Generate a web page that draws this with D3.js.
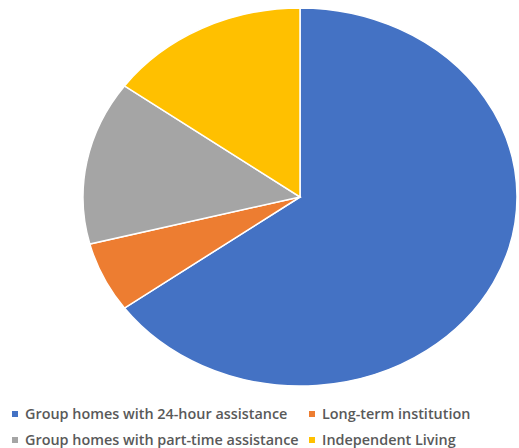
<!DOCTYPE html>
<html>
<head>
<meta charset="utf-8">
<script src="https://cdn.jsdelivr.net/npm/d3@7"></script>
<style>
  html, body { margin: 0; padding: 0; background: #ffffff; }
  svg { display: block; }
</style>
</head>
<body>
<svg id="chart" width="519" height="448"></svg>
<script>
// Living arrangements, share of people (%)
const categories = [
  "Group homes with 24-hour assistance",
  "Long-term institution",
  "Group homes with part-time assistance",
  "Independent Living"
];
const values = [65, 6, 14, 15];
const colors = ["#4472C4", "#ED7D31", "#A5A5A5", "#FFC000"];

const svg = d3.select("#chart");

// Pie drawn on a circle, then stretched horizontally into an ellipse
const cx = 300, cy = 197;
const ry = 189, rx = 217;

const pie = d3.pie().sort(null).value(d => d.value);
const arc = d3.arc().innerRadius(0).outerRadius(ry);

const data = categories.map((c, i) => ({ name: c, value: values[i], color: colors[i] }));

const g = svg.append("g")
  .attr("transform", `translate(${cx},${cy}) scale(${rx / ry},1)`);

g.selectAll("path")
  .data(pie(data))
  .join("path")
  .attr("d", arc)
  .attr("fill", d => d.data.color)
  .attr("stroke", "#ffffff")
  .attr("stroke-width", 1.5)
  .attr("vector-effect", "non-scaling-stroke");

// Legend: two rows, two columns
const legendPos = [
  { x: 12, y: 414 },
  { x: 309, y: 414 },
  { x: 12, y: 440 },
  { x: 309, y: 440 }
];

const legend = svg.append("g").attr("class", "legend");
const items = legend.selectAll("g")
  .data(data)
  .join("g")
  .attr("transform", (d, i) => `translate(${legendPos[i].x},${legendPos[i].y})`);

items.append("rect")
  .attr("x", 0)
  .attr("y", -3)
  .attr("width", 6)
  .attr("height", 6)
  .attr("fill", d => d.color);

items.append("text")
  .attr("x", 13)
  .attr("y", 0)
  .attr("dy", "0.35em")
  .attr("font-family", "'Open Sans', sans-serif")
  .attr("font-size", 14.4)
  .attr("font-weight", 600)
  .attr("fill", "#595959")
  .text(d => d.name);
</script>
</body>
</html>
